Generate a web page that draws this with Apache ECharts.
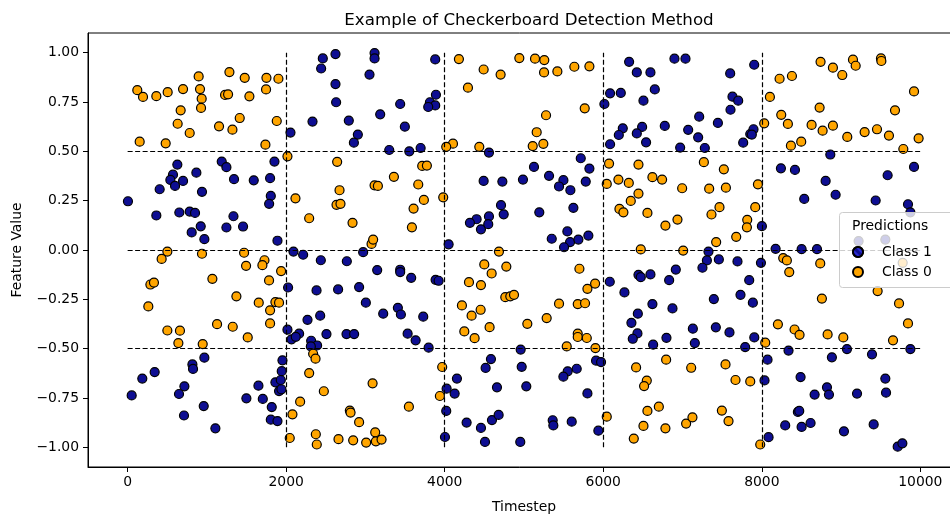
<!DOCTYPE html>
<html><head><meta charset="utf-8">
<script src="https://cdn.jsdelivr.net/npm/echarts@6/dist/echarts.min.js"></script>
<style>html,body{margin:0;padding:0;background:#fff}#c{width:950px;height:515px}</style>
</head><body><div id="c"></div>
<script>
const xTicks = [0, 2000, 4000, 6000, 8000, 10000];
const yTicks = [-1, -0.75, -0.5, -0.25, 0, 0.25, 0.5, 0.75, 1];
const vLines = [2000, 4000, 6000, 8000];
const hLines = [-0.5, 0, 0.5];
const class1 = [
[2462,0.971],[2441,0.92],[2332,0.651],[2054,0.595],
[627,0.433],[572,0.382],[539,0.355],[598,0.325],[699,0.35],[404,0.308],[4,0.247],[362,0.175],[652,0.19],[783,0.195],[850,0.188],[938,0.295],[867,0.392],[1187,0.448],[1246,0.42],[1342,0.359],[1591,0.353],[1852,0.448],[1797,0.364],[1806,0.274],[1785,0.234],[1335,0.171],[1456,0.119],[1246,0.114],[922,0.12],[808,0.089],[968,0.055],[1890,0.047],[2092,-0.008],[2214,-0.024],
[2622,0.993],[3115,0.998],[3115,0.971],[3880,0.966],[3051,0.889],[2622,0.841],[2630,0.749],[2790,0.656],[2904,0.585],[2854,0.544],[3186,0.688],[3438,0.74],[3497,0.625],[3889,0.787],[3813,0.749],[3880,0.733],[3792,0.725],[3300,0.507],[3553,0.5],[3696,0.517],
[4558,0.494],[4491,0.35],[4727,0.347],[4987,0.357],[5126,0.421],[4710,0.227],[4744,0.181],[5193,0.191],[4558,0.17],[4402,0.156],[4318,0.138],[4457,0.105],[4549,0.131],[4049,0.029],[2971,-0.011],
[6326,0.954],[6423,0.9],[6595,0.9],[6898,0.97],[7037,0.97],[7601,0.895],[6650,0.814],[6086,0.794],[6221,0.796],[6014,0.74],[6507,0.757],[7630,0.777],[7702,0.757],[7605,0.711],[7210,0.676],[7446,0.644],[6776,0.629],[6246,0.617],[6196,0.583],[6490,0.624],[6423,0.591],[6540,0.546],[6086,0.536],[7071,0.609],[7197,0.571],[6970,0.519],[7281,0.517],[7765,0.544],[7854,0.588],
[5716,0.465],[5825,0.413],[5316,0.376],[5497,0.354],[5442,0.322],[5585,0.303],[5779,0.347],[5623,0.214],[5547,0.094],[5350,0.057],[5581,0.04],[5686,0.053],[5812,0.073],[5505,0.014],[7327,-0.008],
[7904,0.939],[7895,0.612],[7874,0.585],
[8864,0.484],[8241,0.414],[8418,0.406],[8805,0.35],[9587,0.379],[9920,0.421],[8931,0.28],[8535,0.259],[9436,0.251],[9844,0.232],[9874,0.191],[8174,0.006],[8502,0.004],[8696,0.004],[8001,0.121],[9221,0.045],[9558,0.053],
[2437,-0.052],[2024,-0.19],[2383,-0.205],[2269,-0.354],[2429,-0.333],[2508,-0.426],[2016,-0.404],[2163,-0.424],[2067,-0.453],[2121,-0.44],[2315,-0.46],[2390,-0.484],[2311,-0.489],
[968,-0.546],[817,-0.58],[825,-0.603],[341,-0.619],[185,-0.652],[51,-0.737],[716,-0.691],[648,-0.73],[960,-0.791],[711,-0.839],[1107,-0.904],[1498,-0.752],[1705,-0.755],[1650,-0.688],[1818,-0.796],[1806,-0.86],[1890,-0.867],[1864,-0.671],[1932,-0.659],[1910,-0.715],[1953,-0.559],[1944,-0.614],[1940,-0.706],
[2765,-0.057],[3148,-0.102],[3438,-0.1],[3438,-0.112],[3577,-0.141],[3885,-0.151],[3923,-0.156],[2655,-0.2],[2920,-0.188],[3005,-0.267],[3224,-0.323],[3409,-0.293],[3447,-0.327],[3729,-0.338],[2761,-0.426],[2857,-0.426],[3532,-0.424],[3633,-0.458],[3797,-0.495],
[4024,-0.703],[4154,-0.652],[4125,-0.728],[4019,-0.816],[4003,-0.948],[4276,-0.875],[4457,-0.902],[4596,-0.862],[4680,-0.836],[4508,-0.973],[4953,-0.973],[4516,-0.598],[4583,-0.553],[4659,-0.696],[4971,-0.592],[5029,-0.691],[4958,-0.505],
[7307,-0.053],[7458,-0.048],[7251,-0.09],[7693,-0.058],[7841,-0.153],[6082,-0.161],[6267,-0.215],[6444,-0.126],[6473,-0.138],[6595,-0.124],[6915,-0.099],[6831,-0.153],[6620,-0.274],[6873,-0.296],[7731,-0.227],[7395,-0.249],[6436,-0.323],[6355,-0.369],[6431,-0.423],[6372,-0.45],[6797,-0.445],[6629,-0.48],[7130,-0.399],[7155,-0.472],[7420,-0.392],[7592,-0.418],[7790,-0.492],[7905,-0.443],
[5909,-0.561],[5972,-0.568],[5665,-0.602],[5551,-0.615],[5497,-0.642],[5800,-0.727],[5362,-0.863],[5370,-0.889],[5602,-0.87],[5938,-0.916],
[7989,-0.065],[7887,-0.267],
[8337,-0.51],[8884,-0.544],[9074,-0.502],[9390,-0.529],[9874,-0.502],[8072,-0.556],[8034,-0.661],[8489,-0.644],[8666,-0.733],[8822,-0.696],[8847,-0.733],[9201,-0.728],[9558,-0.652],[9567,-0.723],[8455,-0.821],[8472,-0.816],[8295,-0.889],[8502,-0.897],[8615,-0.877],[9036,-0.919],[9411,-0.884],[8085,-0.949],[9714,-0.997],[9773,-0.98]
];
const class0 = [
[122,0.81],[194,0.776],[362,0.78],[505,0.8],[699,0.816],[896,0.88],[913,0.816],[934,0.767],[926,0.72],[669,0.708],[631,0.64],[783,0.593],[152,0.549],[480,0.541],[1284,0.902],[1477,0.873],[1751,0.873],[1902,0.868],[1229,0.786],[1267,0.789],[1536,0.779],[1746,0.814],[1414,0.669],[1153,0.627],[1322,0.61],[1881,0.654],[1738,0.534],[2016,0.475],[2117,0.262],[2290,0.161],
[4179,0.968],[4491,0.915],[4705,0.889],[4293,0.823],[4941,0.973],[5139,0.97],[5160,0.597],[5110,0.527],[4104,0.539],[4019,0.523],[4436,0.523],[4684,-0.008],
[2643,0.447],[2673,0.303],[2635,0.229],[2685,0.234],[2837,0.138],[3115,0.328],[3157,0.325],[3359,0.371],[3666,0.332],[3716,0.426],[3775,0.428],[3737,0.254],[3607,0.21],[3586,0.115],[3981,0.267],[3077,0.031],[3097,0.053],
[5256,0.963],[5253,0.9],[5421,0.905],[5635,0.929],[5825,0.931],[5766,0.718],[5278,0.683],[5244,0.538],
[6073,0.438],[6444,0.433],[6044,0.335],[6191,0.357],[6322,0.34],[6620,0.369],[6742,0.357],[6444,0.286],[6347,0.249],[6204,0.208],[6254,0.191],[6557,0.188],[6995,0.313],[7269,0.445],[7521,0.409],[7336,0.311],[7547,0.316],[7466,0.217],[7365,0.18],[6936,0.154],[6784,0.124],[7816,0.153],[7812,0.115],[7677,0.067],[7424,0.04],[6473,0.003],[7008,-0.003],
[8741,0.954],[8897,0.924],[9015,0.887],[9150,0.965],[9184,0.934],[9503,0.971],[9508,0.958],[8224,0.868],[8380,0.882],[8102,0.776],[9920,0.804],[8729,0.722],[9680,0.708],[8245,0.685],[8329,0.639],[8030,0.642],[8628,0.634],[8767,0.605],[8897,0.63],[9078,0.573],[9297,0.598],[9453,0.612],[9604,0.58],[9978,0.566],[8497,0.549],[8367,0.529],[9785,0.512],
[7951,0.333],[7917,0.217],
[501,-0.008],[429,-0.045],[938,-0.019],[1469,-0.014],[1494,-0.08],[1726,-0.052],[1700,-0.077],[1936,-0.107],[1069,-0.146],[1784,-0.154],[287,-0.175],[332,-0.165],[261,-0.286],[1372,-0.235],[1654,-0.267],[1864,-0.264],[1910,-0.267],[1797,-0.306],[501,-0.408],[660,-0.409],[640,-0.472],[947,-0.477],[1128,-0.376],[1326,-0.389],[1515,-0.443],[1797,-0.372],
[2340,-0.526],[2370,-0.551],[2290,-0.624],[2475,-0.716],[2176,-0.769],[2079,-0.833],[2045,-0.953],[2374,-0.934],[2386,-0.986],
[3090,-0.676],[2803,-0.814],[2812,-0.824],[2920,-0.873],[3548,-0.794],[3123,-0.924],[2660,-0.959],[2845,-0.965],[3009,-0.976],[3131,-0.97],[3203,-0.961],[3968,-0.593],[3939,-0.74],
[4499,-0.073],[4592,-0.119],[4777,-0.084],[4306,-0.163],[4457,-0.178],[4764,-0.239],[4827,-0.235],[4874,-0.227],[4217,-0.281],[4339,-0.333],[4453,-0.303],[4566,-0.391],[4247,-0.413],[4377,-0.447],[5042,-0.374],
[5699,-0.095],[5800,-0.197],[5897,-0.17],[5442,-0.272],[5678,-0.274],[5770,-0.27],[5286,-0.345],[5678,-0.424],[5678,-0.441],[5792,-0.446],[5539,-0.489],[5901,-0.497],
[6044,-0.845],[6414,-0.595],[6793,-0.556],[7109,-0.597],[7542,-0.58],[7668,-0.659],[7854,-0.666],[6549,-0.662],[6515,-0.69],[6557,-0.816],[6701,-0.794],[6507,-0.892],[6784,-0.904],[6385,-0.956],[7045,-0.88],[7125,-0.848],[7496,-0.814],[7580,-0.867],
[8270,-0.041],[8316,-0.053],[8346,-0.112],[8737,-0.068],[8758,-0.246],[9461,-0.208],[9731,-0.271],[9844,-0.372],[8203,-0.377],[8413,-0.403],[8476,-0.43],[8830,-0.428],[9028,-0.443],[9655,-0.458],[8043,-0.47],[9777,-0.065],[7980,-0.986]
];

const FONT = 'DejaVu Sans';
const lineData = [];
vLines.forEach(v => lineData.push([{coord: [v, -1]}, {coord: [v, 1]}]));
hLines.forEach(h => lineData.push([{coord: [0, h]}, {coord: [10000, h]}]));

const hatch = {symbol: 'rect', symbolSize: 1, color: '#2a2ad0', dashArrayX: [1, 0], dashArrayY: [2, 2.2], rotation: Math.PI / 4};

const chart = echarts.init(document.getElementById('c'), null, {renderer: 'canvas'});
chart.setOption({
  animation: false,
  backgroundColor: '#fff',
  title: {
    text: 'Example of Checkerboard Detection Method',
    left: 524, top: 7, textAlign: 'center',
    textStyle: {fontFamily: FONT, fontSize: 16.7, fontWeight: 'normal', color: '#000'}
  },
  grid: {left: 88, top: 33, width: 872, height: 434, outerBoundsMode: 'none', containLabel: false,
    show: true, borderColor: '#000', borderWidth: 1, backgroundColor: 'transparent'},
  xAxis: {
    type: 'value', min: -500, max: 10500,
    name: 'Timestep', nameLocation: 'middle', nameGap: 33,
    nameTextStyle: {fontFamily: FONT, fontSize: 13.9, color: '#000'},
    axisLine: {show: true, onZero: false, lineStyle: {color: '#000', width: 1}},
    axisTick: {show: true, inside: false, length: 5, customValues: xTicks, lineStyle: {color: '#000', width: 1}},
    axisLabel: {show: true, margin: 8, customValues: xTicks, fontFamily: FONT, fontSize: 13.9, color: '#000',
      formatter: v => String(Math.round(v))},
    splitLine: {show: false}
  },
  yAxis: {
    type: 'value', min: -1.1, max: 1.1,
    name: 'Feature Value', nameLocation: 'middle', nameGap: 64, nameRotate: 90,
    nameTextStyle: {fontFamily: FONT, fontSize: 13.9, color: '#000'},
    axisLine: {show: true, onZero: false, lineStyle: {color: '#000', width: 1}},
    axisTick: {show: true, inside: false, length: 5, customValues: yTicks, lineStyle: {color: '#000', width: 1}},
    axisLabel: {show: true, margin: 9, customValues: yTicks, fontFamily: FONT, fontSize: 13.9, color: '#000',
      formatter: v => (v < 0 ? '\u2212' : '') + Math.abs(v).toFixed(2)},
    splitLine: {show: false}
  },
  legend: {
    show: true, orient: 'vertical', left: 847, top: 240, itemWidth: 28, itemHeight: 10, itemGap: 6,
    z: 120,
    data: [{name: 'Class 1', icon: 'circle'}, {name: 'Class 0', icon: 'circle'}],
    textStyle: {fontFamily: FONT, fontSize: 13.9, color: '#000', padding: [0, 0, 0, 5]}
  },
  graphic: {elements: [
    {type: 'rect', z: 100, shape: {x: 839.5, y: 212.5, width: 140, height: 75, r: 3},
     style: {fill: 'rgba(255,255,255,0.8)', stroke: '#cccccc', lineWidth: 1}},
    {type: 'text', z: 101, left: 852, top: 219,
     style: {text: 'Predictions', font: '13.9px "DejaVu Sans"', fill: '#000'}}
  ]},
  series: [
    {name: 'Class 1', type: 'scatter', data: class1, symbolSize: 9, z: 2,
     itemStyle: {color: '#0e0e92', borderColor: '#000', borderWidth: 1.2, opacity: 1, decal: hatch}},
    {name: 'Class 0', type: 'scatter', data: class0, symbolSize: 9, z: 2,
     itemStyle: {color: '#ffa500', borderColor: '#000', borderWidth: 1.2, opacity: 1}},
    {name: 'lines', type: 'scatter', data: [], z: 5, silent: true,
     markLine: {silent: true, symbol: ['none', 'none'], label: {show: false}, animation: false,
       lineStyle: {color: '#000', width: 1.2, type: [5, 2.5]}, data: lineData}}
  ]
});
</script>
</body></html>
